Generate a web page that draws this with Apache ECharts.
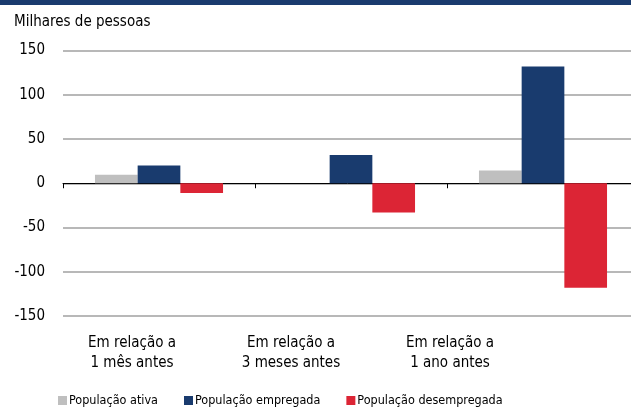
<!DOCTYPE html>
<html><head><meta charset="utf-8">
<script src="https://cdn.jsdelivr.net/npm/echarts@6/dist/echarts.min.js"></script>
<style>html,body{margin:0;padding:0;background:#fff}#c{width:631px;height:407px}</style>
</head><body><div id="c"></div>
<script>
const categories = ['Em relação a\n1 mês antes', 'Em relação a\n3 meses antes', 'Em relação a\n1 ano antes'];
const seriesNames = ['População ativa', 'População empregada', 'População desempregada'];
const ativa = [9.5, 0, 14.5];
const empregada = [20, 32, 132];
const desempregada = [-11, -33, -118];
const yTicks = {min: -150, max: 150, interval: 50};
const unitLabel = 'Milhares de pessoas';

const FONT = '"DejaVu Sans Condensed", "Liberation Sans", sans-serif';
const colors = ['#bfbfbf', '#193b6e', '#dc2535'];
const chart = echarts.init(document.getElementById('c'), null, {renderer: 'canvas'});
chart.setOption({
  animation: false,
  textStyle: {fontFamily: FONT},
  color: colors,
  graphic: [
    {type: 'rect', left: 0, top: 0, shape: {width: 631, height: 5}, style: {fill: '#1a3b6e'}},
    {type: 'text', left: 14, top: 15, style: {text: unitLabel, font: '15px ' + FONT, fill: '#000'}}
  ],
  legend: {
    left: 58, top: 394, padding: 0, itemWidth: 9, itemHeight: 9, itemGap: 26,
    icon: 'rect',
    textStyle: {fontFamily: FONT, fontSize: 12.5, color: '#000', padding: [0, 0, 0, -3]},
    data: seriesNames
  },
  grid: [
    {left: 63, width: 576, top: 50.5, bottom: 91, containLabel: false, outerBoundsMode: 'none'},
    {left: 52.5, width: 477, top: 50.5, bottom: 91, containLabel: false, outerBoundsMode: 'none'}
  ],
  xAxis: [
    {type: 'category', gridIndex: 0, data: categories,
     axisLine: {onZero: true, lineStyle: {color: '#000', width: 1}},
     axisTick: {show: true, length: 5, lineStyle: {color: '#000'}},
     axisLabel: {show: false}},
    {type: 'category', gridIndex: 1, data: categories,
     axisLine: {show: false}, axisTick: {show: false},
     axisLabel: {margin: 17, fontFamily: FONT, fontSize: 15, color: '#000', lineHeight: 20}}
  ],
  yAxis: [
    {type: 'value', gridIndex: 0, min: yTicks.min, max: yTicks.max, interval: yTicks.interval,
     axisLine: {show: false}, axisTick: {show: false},
     axisLabel: {margin: 18, fontFamily: FONT, fontSize: 15, color: '#000'},
     splitLine: {lineStyle: {color: '#a0a0a0', width: 1.5}}},
    {type: 'value', gridIndex: 1, min: yTicks.min, max: yTicks.max, show: false}
  ],
  series: [
    {name: seriesNames[0], type: 'bar', data: ativa, barGap: '0%', barCategoryGap: '33.3%'},
    {name: seriesNames[1], type: 'bar', data: empregada, barGap: '0%', barCategoryGap: '33.3%'},
    {name: seriesNames[2], type: 'bar', data: desempregada, barGap: '0%', barCategoryGap: '33.3%'}
  ]
});
</script></body></html>
